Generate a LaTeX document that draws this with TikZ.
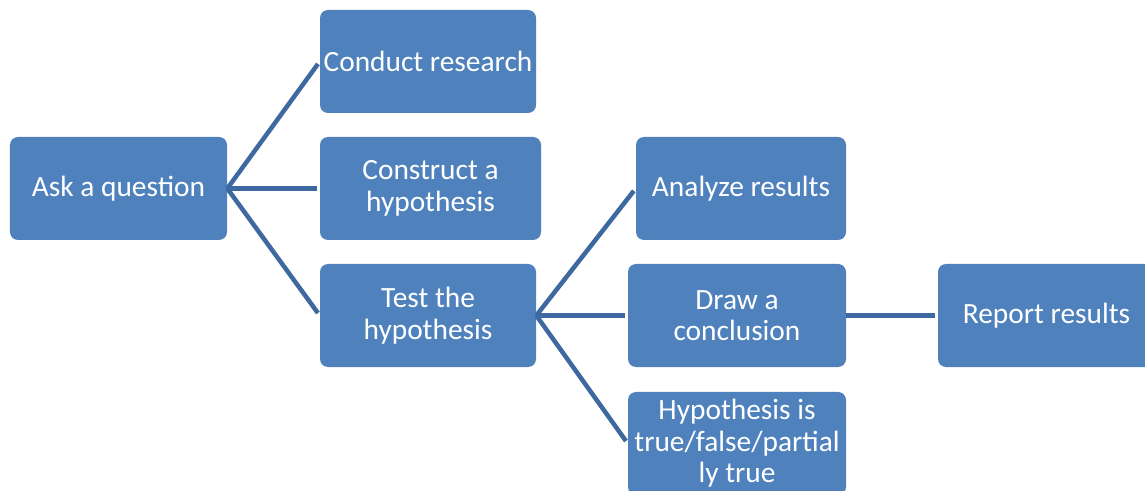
\documentclass[tikz,border=0pt]{standalone}
\usepackage{fontspec}
\setmainfont{Carlito}
\usepackage{tikz}
\usetikzlibrary{arrows,positioning,shapes}

\definecolor{boxblue}{HTML}{4F81BD}
\definecolor{lineblue}{HTML}{3E68A0}

\begin{document}
\begin{tikzpicture}[x=1bp, y=-1bp, semithick,
    every node/.style={font=\fontsize{29.5}{31.5}\selectfont, text=white},
    stepbox/.style={fill=boxblue, rounded corners=8bp, inner sep=0pt,
        minimum height=103bp, align=center},
    link/.style={draw=lineblue, line width=4.5bp, shorten >=3bp}
    ]
\useasboundingbox (0,0) rectangle (1145,491);
% first column
\node[stepbox, minimum width=217bp] (ask)      at (118.5,188.5) {Ask a question};
% second column
\node[stepbox, minimum width=216bp] (research) at (428,61.5)    {Conduct research};
\node[stepbox, minimum width=221bp] (construct) at (430.5,188.5) {Construct a\\hypothesis};
\node[stepbox, minimum width=216bp] (test)     at (428,315.5)   {Test the\\hypothesis};
% third column
\node[stepbox, minimum width=210bp] (analyze)  at (741,188.5)   {Analyze results};
\node[stepbox, minimum width=218bp] (draw)     at (737,315.5)   {Draw a\\conclusion};
\node[stepbox, minimum width=218bp] (hypo)     at (737,443.5)   {Hypothesis is\\true/false/partial\\ly true};
% fourth column
\node[stepbox, minimum width=217bp] (report)   at (1046.5,315.5) {Report results};

\path
(ask.east)  edge [link] (research.west)
(ask.east)  edge [link] (construct.west)
(ask.east)  edge [link] (test.west)
(test.east) edge [link] (analyze.west)
(test.east) edge [link] (draw.west)
(test.east) edge [link] (hypo.west)
(draw.east) edge [link] (report.west)
;
\end{tikzpicture}
\end{document}
